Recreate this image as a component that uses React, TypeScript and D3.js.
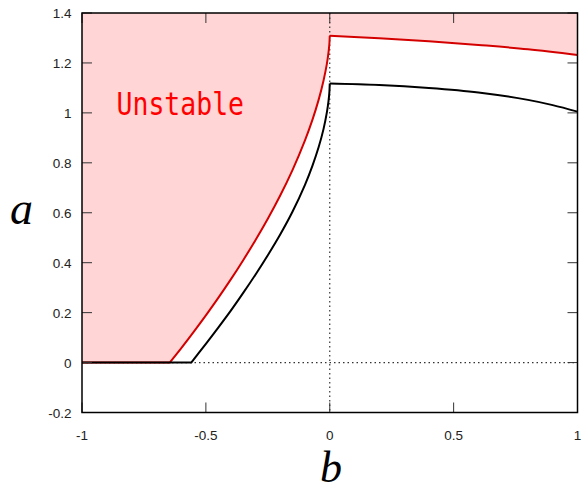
import React from "react";
import * as d3 from "d3";

const xTicks = [-1, -0.5, 0, 0.5, 1];
const xTickLabels = ["-1", "-0.5", "0", "0.5", "1"];
const yTicks = [-0.2, 0, 0.2, 0.4, 0.6, 0.8, 1, 1.2, 1.4];
const yTickLabels = ["-0.2", "0", "0.2", "0.4", "0.6", "0.8", "1", "1.2", "1.4"];

// Red (stability boundary) curve, left branch (b <= 0)
const redLeftB = [-1, -0.646, -0.6, -0.55, -0.5, -0.45, -0.4, -0.35, -0.3, -0.25, -0.2, -0.15, -0.1, -0.07, -0.045, -0.025, -0.012, -0.005, -0.0015, 0];
const redLeftA = [0, 0, 0.057, 0.122, 0.189, 0.259, 0.332, 0.409, 0.49, 0.576, 0.669, 0.772, 0.89, 0.972, 1.052, 1.13, 1.194, 1.242, 1.277, 1.309];
// Red curve, right branch (b >= 0)
const redRightB = [0, 0.2, 0.4, 0.6, 0.8, 1];
const redRightA = [1.309, 1.299, 1.287, 1.272, 1.255, 1.232];

// Black curve, left branch
const blackLeftB = [-1, -0.559, -0.5, -0.45, -0.4, -0.35, -0.3, -0.25, -0.2, -0.15, -0.1, -0.07, -0.045, -0.025, -0.012, -0.005, -0.0015, 0];
const blackLeftA = [0, 0, 0.075, 0.14, 0.207, 0.278, 0.352, 0.43, 0.513, 0.605, 0.712, 0.788, 0.862, 0.936, 1.0, 1.047, 1.083, 1.118];
// Black curve, right branch
const blackRightB = [0, 0.2, 0.4, 0.6, 0.8, 0.9, 1];
const blackRightA = [1.118, 1.112, 1.1, 1.082, 1.052, 1.031, 1.005];

const W = 581;
const H = 485;
const L = 82;
const R = 577.5;
const T = 13;
const B = 412.5;

export default function App() {
  const x = d3.scaleLinear().domain([-1, 1]).range([L, R]);
  const y = d3.scaleLinear().domain([-0.2, 1.4]).range([B, T]);

  const line = d3
    .line<[number, number]>()
    .x((d) => x(d[0]))
    .y((d) => y(d[1]))
    .curve(d3.curveCatmullRom.alpha(0.5));
  const lin = d3
    .line<[number, number]>()
    .x((d) => x(d[0]))
    .y((d) => y(d[1]));

  const zip = (bs: number[], as: number[]) => bs.map((b, i) => [b, as[i]] as [number, number]);

  const redLeft = zip(redLeftB, redLeftA);
  const redRight = zip(redRightB, redRightA);
  const blackLeft = zip(blackLeftB, blackLeftA);
  const blackRight = zip(blackRightB, blackRightA);

  const redLeftD = lin(redLeft.slice(0, 2)) + (line(redLeft.slice(1)) || "").replace(/^M/, "L");
  const redRightD = line(redRight) || "";
  const blackLeftD = lin(blackLeft.slice(0, 2)) + (line(blackLeft.slice(1)) || "").replace(/^M/, "L");
  const blackRightD = line(blackRight) || "";

  const fillD =
    `M${x(-1)},${y(1.4)}L${x(-1)},${y(0)}` +
    redLeftD.replace(/^M/, "L") +
    redRightD.replace(/^M/, "L") +
    `L${x(1)},${y(1.4)}Z`;

  const tickColor = "#333";
  const tickLen = 10;
  const labelFont = "'Liberation Sans', Arial, sans-serif";

  return (
    <svg
      width={W}
      height={H}
      style={{ position: "absolute", left: 0, top: 0, background: "#fff" }}
    >
      <defs>
        <clipPath id="plot">
          <rect x={L} y={T} width={R - L} height={B - T} />
        </clipPath>
      </defs>
      <rect x={0} y={0} width={W} height={H} fill="#fff" />
      <g clipPath="url(#plot)">
        <path d={fillD} fill="#ffd5d5" stroke="none" />
        <line x1={x(0)} x2={x(0)} y1={T} y2={B} stroke="#333" strokeWidth={1.2} strokeDasharray="1.5,3" />
        <line x1={L} x2={R} y1={y(0)} y2={y(0)} stroke="#333" strokeWidth={1.2} strokeDasharray="1.5,3" />
        <path d={redLeftD} fill="none" stroke="#d40000" strokeWidth={2} strokeLinejoin="round" />
        <path d={redRightD} fill="none" stroke="#d40000" strokeWidth={2} strokeLinejoin="round" />
        <path d={blackLeftD} fill="none" stroke="#000" strokeWidth={2} strokeLinejoin="round" />
        <path d={blackRightD} fill="none" stroke="#000" strokeWidth={2} strokeLinejoin="round" />
      </g>

      {xTicks.map((t) => (
        <g key={"xt" + t}>
          <line x1={x(t)} x2={x(t)} y1={B} y2={B - tickLen} stroke={tickColor} strokeWidth={1} />
          <line x1={x(t)} x2={x(t)} y1={T} y2={T + tickLen} stroke={tickColor} strokeWidth={1} />
        </g>
      ))}
      {yTicks.map((t) => (
        <g key={"yt" + t}>
          <line x1={L} x2={L + tickLen} y1={y(t)} y2={y(t)} stroke={tickColor} strokeWidth={1} />
          <line x1={R} x2={R - tickLen} y1={y(t)} y2={y(t)} stroke={tickColor} strokeWidth={1} />
        </g>
      ))}

      <rect x={L} y={T} width={R - L} height={B - T} fill="none" stroke="#000" strokeWidth={1.5} />

      {xTicks.map((t, i) => (
        <text
          key={"xl" + t}
          x={x(t)}
          y={439.5}
          textAnchor="middle"
          fontFamily={labelFont}
          fontSize={13.5}
          fill="#222"
        >
          {xTickLabels[i]}
        </text>
      ))}
      {yTicks.map((t, i) => (
        <text
          key={"yl" + t}
          x={71.5}
          y={y(t) + 5}
          textAnchor="end"
          fontFamily={labelFont}
          fontSize={13.5}
          fill="#222"
        >
          {yTickLabels[i]}
        </text>
      ))}

      <text x={21.5} y={224} textAnchor="middle" fontFamily="'Liberation Serif', 'DejaVu Serif', serif" fontStyle="italic" fontSize={46} fill="#000">
        a
      </text>
      <text x={331} y={482} textAnchor="middle" fontFamily="'Liberation Serif', 'DejaVu Serif', serif" fontStyle="italic" fontSize={44} fill="#000">
        b
      </text>

      <text
        x={116.5}
        y={114.5}
        fontFamily="'DejaVu Sans Mono', monospace"
        fontSize={32}
        textLength={127.5}
        lengthAdjust="spacingAndGlyphs"
        fill="#ff0000"
      >
        Unstable
      </text>
    </svg>
  );
}
